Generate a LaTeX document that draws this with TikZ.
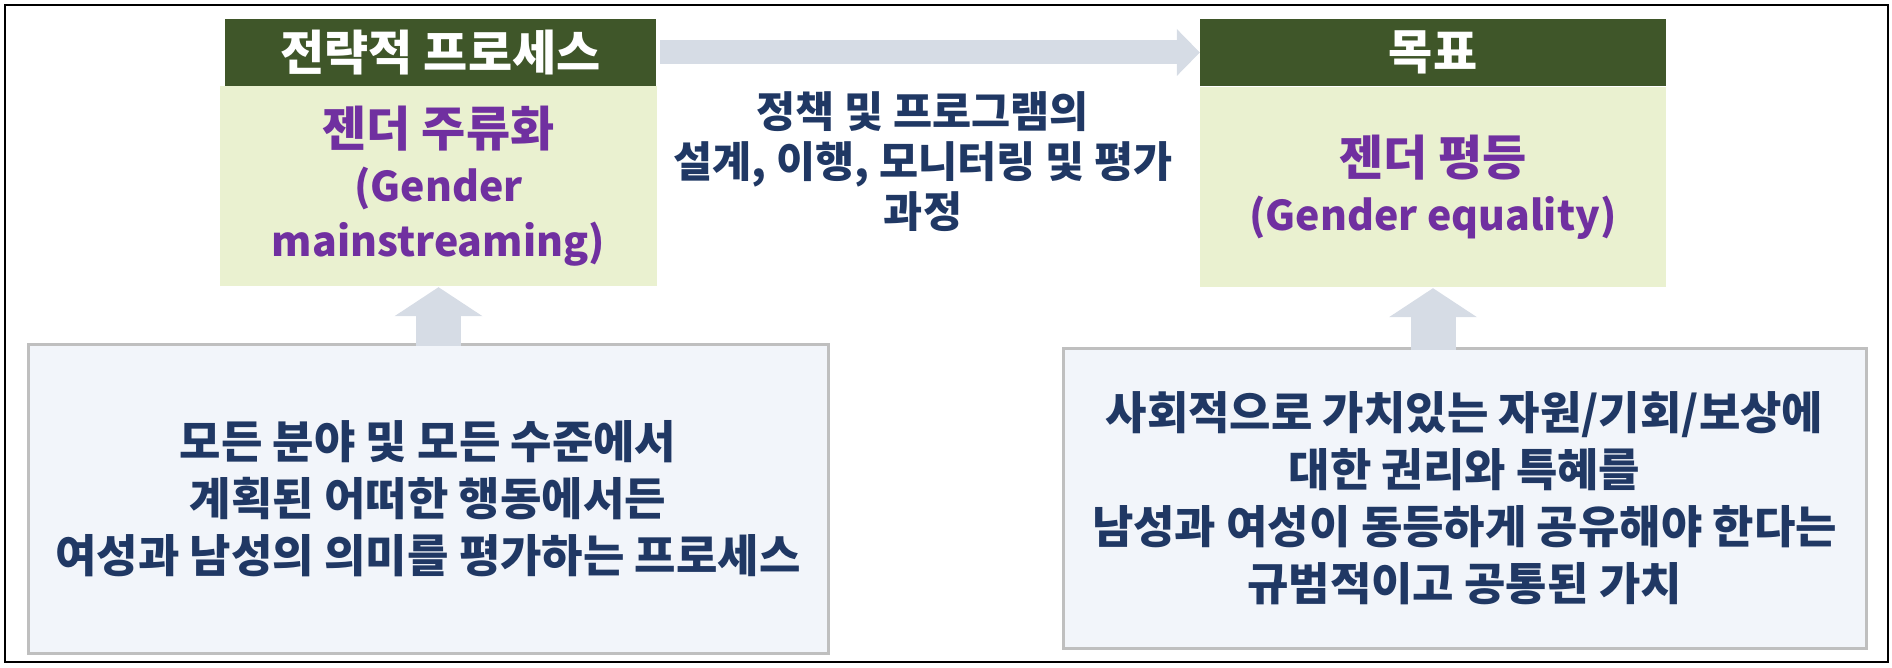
\documentclass[tikz,border=0pt]{standalone}
\usepackage{fontspec}
\setmainfont{Noto Sans CJK KR}
\usetikzlibrary{arrows.meta,positioning}
\definecolor{headgreen}{HTML}{3F5629}
\definecolor{palegreen}{HTML}{EAF1D0}
\definecolor{titlepurple}{HTML}{7030A0}
\definecolor{navytext}{HTML}{203864}
\definecolor{arrowgrey}{HTML}{D6DCE5}
\definecolor{notefill}{HTML}{F2F5FA}
\definecolor{noteline}{HTML}{BFBFBF}
\newcommand{\krline}[1]{{\fontsize{48}{55}\selectfont #1}}

\begin{document}
\begin{tikzpicture}[x=1pt,y=-1pt,inner sep=0pt,
  header/.style={fill=headgreen,text=white,minimum width=#1,minimum height=67pt,
    font=\fontsize{48}{54}\selectfont\bfseries},
  concept/.style={fill=palegreen,text=titlepurple,minimum width=#1,minimum height=200pt,
    align=center,font=\fontsize{41}{55}\selectfont\bfseries},
  note/.style={fill=notefill,draw=noteline,line width=3pt,text=navytext,align=center,
    font=\fontsize{45}{57}\selectfont\bfseries},
  flow/.style={arrowgrey,line width=24pt,-{Triangle[width=47pt,length=23pt,line width=0pt]}},
  lift/.style={arrowgrey,line width=45pt,-{Triangle[width=88pt,length=29pt,line width=0pt]}}]
\useasboundingbox (0,0) rectangle (1892,668);
\draw[line width=2pt] (5,5) rectangle (1888,662);

\node[header=431pt] (process) at (440.5,52.5) {전략적 프로세스};
\node[concept=437pt] (mainstream) at (438.5,186) {\krline{젠더 주류화}\\(Gender\\mainstreaming)};
\node[header=466pt] (goal) at (1433,52.5) {목표};
\node[concept=466pt] (equality) at (1433,187) {\krline{젠더 평등}\\(Gender equality)};

\node[note,minimum width=800pt,minimum height=309pt] (meaning) at (428,498.5)
  {모든 분야 및 모든 수준에서\\계획된 어떠한 행동에서든\\여성과 남성의 의미를 평가하는 프로세스};
\node[note,minimum width=803pt,minimum height=300pt] (value) at (1464.5,498)
  {사회적으로 가치있는 자원/기회/보상에\\대한 권리와 특혜를\\남성과 여성이 동등하게 공유해야 한다는\\규범적이고 공통된 가치};

\node[text=navytext,align=center,font=\fontsize{42.5}{50}\selectfont\bfseries] (policy) at (923,162)
  {정책 및 프로그램의\\설계, 이행, 모니터링 및 평가\\과정};

\draw[flow,shorten <=4pt] (process.east) -- (goal.west);
\draw[lift,shorten <=-3pt,shorten >=1pt] (meaning.north -| mainstream.south) -- (mainstream.south);
\draw[lift,shorten <=-3pt,shorten >=1pt] (value.north -| equality.south) -- (equality.south);
\end{tikzpicture}
\end{document}
